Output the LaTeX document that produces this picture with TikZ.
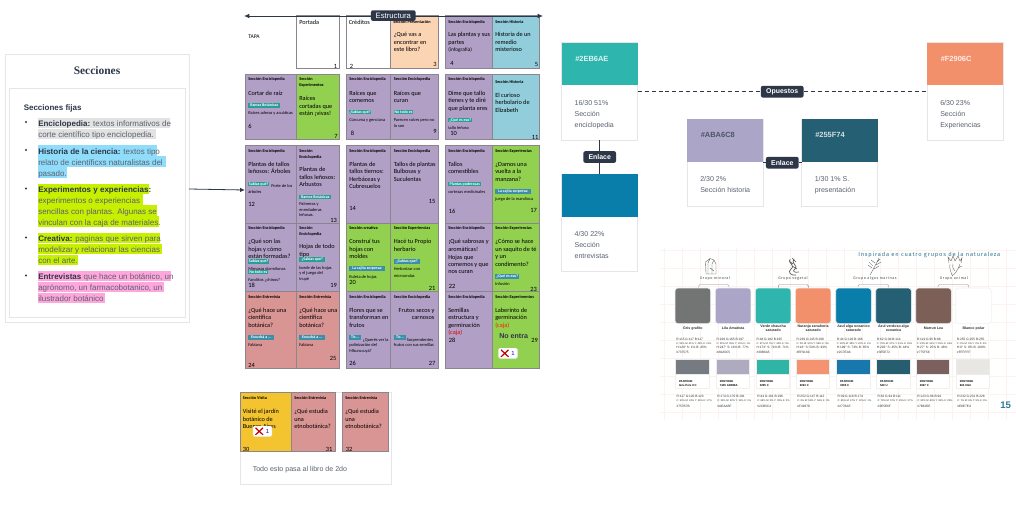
\documentclass[tikz,border=0pt]{standalone}
\usepackage{fontspec}
\usetikzlibrary{arrows.meta}
\setmainfont{Liberation Sans}
\newfontfamily\calib{Carlito}
\newfontfamily\serifb{Liberation Serif}
\newfontfamily\handf[LetterSpace=14]{Fira Sans}
\definecolor{ink}{HTML}{2D3748}
\definecolor{greytx}{HTML}{5A6270}
\definecolor{lineg}{HTML}{E6E6E8}
\definecolor{pur}{HTML}{B19FC6}
\definecolor{grn}{HTML}{92D050}
\definecolor{blu}{HTML}{92CDDC}
\definecolor{ora}{HTML}{FBD4B4}
\definecolor{redp}{HTML}{D99594}
\definecolor{yel}{HTML}{F4C430}
\definecolor{pageb}{HTML}{8A858F}
\definecolor{hlteal}{HTML}{2A9D96}
\definecolor{hlblue}{HTML}{3C8FA8}
\definecolor{hlgrey}{HTML}{E2E2E2}
\definecolor{hlcyan}{HTML}{8FDCFB}
\definecolor{hllime}{HTML}{C6F000}
\definecolor{hlpink}{HTML}{FFA6DD}
\definecolor{titleb}{HTML}{2E7A95}
\definecolor{gridc}{HTML}{FDF3EE}
\definecolor{c1}{HTML}{737575}\definecolor{c2}{HTML}{ABA6C8}\definecolor{c3}{HTML}{2EB6AE}
\definecolor{c4}{HTML}{F2906C}\definecolor{c5}{HTML}{0A7EAB}\definecolor{c6}{HTML}{255F74}
\definecolor{c7}{HTML}{7C5F56}
\definecolor{p1}{HTML}{757B80}\definecolor{p2}{HTML}{AEAABF}\definecolor{p3}{HTML}{2FB5A6}
\definecolor{p4}{HTML}{F49370}\definecolor{p5}{HTML}{1878AE}\definecolor{p6}{HTML}{265E6F}
\definecolor{p7}{HTML}{7B605E}\definecolor{p8}{HTML}{E8E7E4}
\newcommand\sz[1]{\fontsize{#1}{#1}\selectfont}
\newcounter{tn}
\tikzset{
  lab/.style={inner sep=0pt,anchor=mid west,text=black},
  hdt/.style={lab,font=\calib\bfseries\sz{3.2}},
  bdt/.style={lab,font=\calib\sz{4.7}},
  smt/.style={lab,font=\calib\sz{3.3}},
  numt/.style={lab,font=\calib\sz{4.8}},
  rectn/.style={inner sep=0pt,outer sep=0pt,line width=0.45pt},
  tagn/.style={fill=ink,rounded corners=1.5pt,text=white,inner sep=0pt,font=\bfseries\sz{5.2}},
  cardt/.style={lab,font=\sz{5.3},text=greytx},
  pan/.style={lab,font=\sz{6},text=greytx},
  val/.style={lab,font=\sz{2.4},text=black!80},
  vals/.style={lab,font=\sz{1.9},text=black!80},
  grp/.style={inner sep=0pt,font=\handf\sz{2.8},text=black!70},
  sketch/.style={line width=0.25pt,draw=black!65},
}
\newcommand\tx[4][]{\stepcounter{tn}\node[lab,#1] (t\thetn) at (#2,#3) {#4};}
\newcommand\hd[3]{\tx[hdt]{#1}{#2}{#3}}
\newcommand\bd[3]{\tx[bdt]{#1}{#2}{#3}}
\newcommand\smt[3]{\tx[smt]{#1}{#2}{#3}}
\newcommand\nm[3]{\tx[numt]{#1}{#2}{#3}}
% named rectangle from (x0,y0) to (x1,y1)
\newcommand\rectn[6][]{\node[rectn,minimum width={((#4)-(#2))*0.75pt},minimum height={((#5)-(#3))*0.75pt},#1] (#6) at ({((#2)+(#4))/2},{((#3)+(#5))/2}) {};}
\newcommand\pg[6]{\rectn[draw=pageb,fill=#1]{#2}{#3}{#4}{#5}{#6}}
% small highlighted run inside the grid pages
\newcommand\hilite[5]{\stepcounter{tn}\node[inner sep=0pt,anchor=west,fill=#4,minimum width={(#2-#1)*0.75pt},minimum height=3.6pt,text=white,font=\calib\bfseries\sz{3}] (t\thetn) at (#1,#3) {#5};}
% line of the Secciones panel
\newcommand\secl[4]{\stepcounter{tn}\rectn[fill=#3]{38}{#1-5.3}{#2}{#1+5.3}{s\thetn}\tx[pan]{38}{#1}{#4}}
\newcommand\bul[1]{\stepcounter{tn}\node[circle,fill=ink,inner sep=0pt,minimum size=1.7pt] (b\thetn) at (26,#1) {};}
\newcommand\cmark[3]{\stepcounter{tn}\node[fill=white,draw=blue!8,rounded corners=1pt,inner sep=0pt,line width=0.3pt,minimum width=14pt,minimum height=7.6pt] (m\thetn) at (#1,#2) {};
  \draw[red!75!black,line width=0.9pt] (#1-7,#2-3.5)--(#1+0.5,#2+3.5) (#1-7,#2+3.5)--(#1+0.5,#2-3.5);
  \node[inner sep=0pt,font=\sz{4.4},text=blue!70!black] (n\thetn) at (#1+5,#2) {#3};}
% palette
\newcommand\palA[7]{\stepcounter{tn}\rectn[fill=#2,rounded corners=2.2pt,draw=black!6]{#1}{288}{#1+35.6}{323.6}{sw\thetn}
  \node[inner sep=0pt,align=center,font=\bfseries\sz{2.7},text=black!80] (na\thetn) at (#1+17.8,328.5) {#3};
  \tx[val]{#1+1}{337.3}{#4}\tx[vals]{#1+1}{341}{#5}\tx[val]{#1+1}{344.8}{#6}\tx[val]{#1+1}{349.5}{#7}}
\newcommand\palB[7]{\stepcounter{tn}\rectn[fill=white,draw=black!6]{#1}{359.3}{#1+33.6}{388}{pc\thetn}
  \rectn[fill=#2,draw=black!8]{#1}{359.3}{#1+33.6}{374.3}{ps\thetn}
  \tx[font=\bfseries\sz{2.1}]{#1+3.5}{379.3}{#3}\tx[font=\bfseries\sz{2.1}]{#1+3.5}{383}{#4}
  \tx[val]{#1+1}{393.7}{#5}\tx[vals]{#1+1}{398}{#6}\tx[val]{#1+1}{403.8}{#7}}
\newcommand\brk[2]{\draw[line width=0.3pt,draw=black!45,rounded corners=1pt] (#1,288)--(#1,284.5)--(#2,284.5)--(#2,288);}
\begin{document}
\begin{tikzpicture}[x=0.75pt,y=-0.75pt]
\useasboundingbox (0,0) rectangle (1016,504);
\fill[white] (0,0) rectangle (1016,504);
% ---------- palette grid background
\foreach \gx in {664,682,...,1016}{\draw[gridc,line width=0.3pt] (\gx,248)--(\gx,420);}
\foreach \gy in {250,268,...,420}{\draw[gridc,line width=0.3pt] (660,\gy)--(1016,\gy);}
% ---------- Secciones panel
\rectn[fill=white,draw=lineg]{5}{54}{189}{322}{seccard}
\rectn[fill=white,draw=lineg]{9}{88}{185}{317}{secin}
\node[inner sep=0pt,font=\serifb\bfseries\sz{8.6},text=ink] (sectitle) at (97,71) {Secciones};
\node[lab,font=\bfseries\sz{6},text=ink] (secfij) at (23.5,107) {Secciones fijas};
\bul{122}\bul{150}\bul{188.5}\bul{237.5}\bul{275.5}
\secl{123}{170}{hlgrey}{\textbf{\textcolor{ink}{Enciclopedia:}} textos informativos de}
\secl{134}{156}{hlgrey}{corte científico tipo enciclopedia.}
\secl{150.5}{157}{hlcyan}{\textbf{\textcolor{ink}{Historia de la ciencia:}} textos tipo}
\secl{161.5}{166}{hlcyan}{relato de científicxs naturalistas del}
\secl{172.5}{67}{hlcyan}{pasado.}
\secl{189}{149}{hllime}{\textbf{\textcolor{ink}{Experimentos y experiencias:}}}
\secl{199.7}{143}{hllime}{experimentos o experiencias}
\secl{210.5}{157}{hllime}{sencillas con plantas. Algunas se}
\secl{221.5}{159}{hllime}{vinculan con la caja de materiales.}
\secl{238}{160}{hllime}{\textbf{\textcolor{ink}{Creativa:}} paginas que sirven para}
\secl{249}{162}{hllime}{modelizar y relacionar las ciencias}
\secl{260}{78}{hllime}{con el arte.}
\secl{276}{171}{hlpink}{\textbf{\textcolor{ink}{Entrevistas}} que hace un botánico, un}
\secl{287}{164}{hlpink}{agrónomo, un farmacobotanico, un}
\secl{298}{105}{hlpink}{ilustrador botánico}
% ---------- grid pages, row 1
\pg{white}{296}{15}{339}{68}{p1}
\pg{white}{346}{15}{390}{68}{p2}
\pg{ora}{390}{15}{438}{68}{p3}
\pg{pur}{445}{15}{492}{68}{p4}
\pg{blu}{492}{15}{539}{68}{p5}
% row 2
\pg{pur}{245}{74}{296}{139}{p6}
\pg{grn}{296}{74}{339}{139}{p7}
\pg{pur}{346}{74}{390}{139}{p8}
\pg{pur}{390}{74}{438}{139}{p9}
\pg{pur}{445}{74}{492}{139}{p10}
\pg{blu}{492}{74}{539}{139}{p11}
% row 3
\pg{pur}{245}{145}{296}{223}{p12}
\pg{pur}{296}{145}{339}{223}{p13}
\pg{pur}{346}{145}{390}{223}{p14}
\pg{pur}{390}{145}{438}{223}{p15}
\pg{pur}{445}{145}{492}{223}{p16}
\pg{grn}{492}{145}{539}{223}{p17}
% row 4
\pg{pur}{245}{223}{296}{291}{p18}
\pg{pur}{296}{223}{339}{291}{p19}
\pg{grn}{346}{223}{390}{291}{p20}
\pg{grn}{390}{223}{438}{291}{p21}
\pg{pur}{445}{223}{492}{291}{p22}
\pg{grn}{492}{223}{539}{291}{p23}
% row 5
\pg{redp}{245}{291}{296}{368}{p24}
\pg{redp}{296}{291}{339}{368}{p25}
\pg{pur}{346}{291}{390}{368}{p26}
\pg{pur}{390}{291}{438}{368}{p27}
\pg{pur}{445}{291}{492}{368}{p28}
\pg{grn}{492}{291}{539}{368}{p29}
% bottom panel
\rectn[fill=white,draw=lineg]{240}{392}{391}{484}{botpanel}
\pg{yel}{240}{392}{291}{451}{p30}
\pg{redp}{291}{392}{335}{451}{p31}
\pg{redp}{342}{392}{388}{451}{p32}
% ---- texts row 1
\bd{248}{34.5}{\sz{4.2}TAPA}
\bd{299}{20.5}{Portada}\bd{348.5}{20.5}{Créditos}
\hd{393}{19.5}{Sección Presentación}
\bd{393.5}{33}{¿Qué vas a}\bd{393.5}{41}{encontrar en}\bd{393.5}{48}{este libro?}
\hd{448}{19.5}{Sección Enciclopedia}
\bd{448}{33}{Las plantas y sus}\bd{448}{41}{partes}\tx[bdt,font=\calib\sz{4}]{448}{47.7}{(infografía)}
\hd{495}{19.5}{Sección Historia}
\bd{495}{33}{Historia de un}\bd{495}{41}{remedio}\bd{495}{48}{misterioso}
\nm{333.5}{65}{1}\nm{349.5}{65}{2}\nm{433}{63}{3}\nm{450}{62}{4}\nm{534.5}{63}{5}
% ---- row 2
\hd{248}{77.3}{Sección Enciclopedia}
\bd{248}{91.7}{Cortar de raíz}
\hilite{248}{280}{105.3}{hlteal}{Ramas Botánicas}
\smt{248}{110.7}{Raíces adreas y acuáticas}
\nm{248}{125}{6}
\hd{299}{77.3}{Sección}\hd{299}{83}{Experimentos}
\bd{299}{97}{Raíces}\bd{299}{104.5}{cortadas que}\bd{299}{112}{están ¡vivas!}
\nm{334}{135}{7}
\hd{349}{77.3}{Sección Enciclopedia}
\bd{349}{91.7}{Raíces que}\bd{349}{99}{comemos}
\hilite{349}{370}{112}{hlteal}{¿Sabías qué?}
\smt{349}{118}{Cúrcuma y genciana}
\nm{350.5}{132}{8}
\hd{393.5}{77.3}{Sección Enciclopedia}
\bd{393.5}{91.7}{Raíces que}\bd{393.5}{99}{curan}
\hilite{393.5}{413}{112}{hlteal}{No todo es}
\smt{393.5}{118}{Parecen raíces pero no}\smt{393.5}{123.5}{lo son}
\nm{433}{130}{9}
\hd{448}{77.3}{Sección Enciclopedia}
\bd{448}{91.7}{Dime que tallo}\bd{448}{99}{tienes y te diré}\bd{448}{107}{que planta eres}
\hilite{448}{472}{120}{hlteal}{¿Qué es eso?}
\smt{448}{125.7}{tallo leñoso}
\nm{450}{132}{10}
\hd{495}{79.5}{Sección Historia}
\bd{495}{93.7}{El curioso}\bd{495}{101}{herbolario de}\bd{495}{108.7}{Elizabeth}
\nm{531.5}{136}{11}
% ---- row 3
\hd{248}{149}{Sección Enciclopedia}
\bd{248}{162.7}{Plantas  de tallos}\bd{248}{170}{leñosos: Árboles}
\hilite{248}{269}{184}{hlteal}{Sabías qué?}
\smt{271}{184}{Porte de los}\smt{248}{189.7}{árboles}
\nm{248}{203}{12}
\hd{299}{149}{Sección}\hd{299}{154.5}{Enciclopedia}
\bd{299}{168}{Plantas de}\bd{299}{176}{tallos leñosos:}\bd{299}{183}{Arbustos}
\hilite{299}{331}{197}{hlteal}{Ramos Botánicas}
\smt{299}{202}{Palmeras y}\smt{299}{207.5}{enredaderas}\smt{299}{213}{leñosas.}
\nm{330}{219}{13}
\hd{349}{149}{Sección Enciclopedia}
\bd{349}{162.7}{Plantas  de}\bd{349}{170}{tallos tiernos:}\bd{349}{177.7}{Herbáceas y}\bd{349}{185}{Cubresuelos}
\nm{349}{207}{14}
\hd{393.5}{149}{Sección Enciclopedia}
\bd{393.5}{162.7}{Tallos de plantas}\bd{393.5}{170}{Bulbosas y}\bd{393.5}{177.5}{Suculentas}
\nm{428.5}{200}{15}
\hd{448}{149}{Sección Enciclopedia}
\bd{448}{162.7}{Tallos}\bd{448}{170}{comestibles}
\hilite{448}{481}{184}{hlteal}{Plantas poderosas}
\smt{448}{189.5}{cortezas medicinales}
\nm{448.5}{210}{16}
\hd{495}{149}{Sección Experiencias}
\bd{495}{162.7}{¿Damos una}\bd{495}{170}{vuelta a la}\bd{495}{177.5}{manzana?}
\hilite{495}{531}{191.5}{hlblue}{La cajita sorpresa:}
\smt{495}{197}{juego de la mandioca}
\nm{530}{209}{17}
% ---- row 4
\hd{248}{226}{Sección Enciclopedia}
\bd{248}{240}{¿Qué son las}\bd{248}{248}{hojas y cómo}\bd{248}{255}{están formadas?}
\hilite{248}{269}{261.7}{hlteal}{Sabías que?}
\smt{248}{267}{Mimosas dormilonas}
\hilite{248}{268}{272}{hlteal}{No todo es}
\smt{248}{277.5}{Farolitos ¿chinos?}
\nm{248}{284}{18}
\hd{299}{226}{Sección}\hd{299}{231.5}{Enciclopedia}
\bd{299}{245}{Hojas de todo}\bd{299}{253}{tipo}
\hilite{299}{325}{259.7}{hlteal}{¿Sabías que?}
\smt{299}{265.5}{borde de las hojas}\smt{299}{271}{y el juego del}\smt{299}{277}{trupé}
\nm{330}{283.5}{19}
\hd{349}{226}{Sección creativa}
\bd{349}{240}{Construí tus}\bd{349}{247.5}{hojas con}\bd{349}{255}{moldes}
\hilite{349}{385}{268.5}{hlblue}{La cajita sorpresa:}
\smt{349}{274.5}{Ruleta de hojas}
\nm{349}{281}{20}
\hd{393.5}{226}{Sección Experiencias}
\bd{393.5}{240}{Hacé tu Propio}\bd{393.5}{247.5}{herbario}
\hilite{393.5}{420}{261.5}{hlblue}{¿Sabías que?}
\smt{393.5}{267}{Herborizar con}\smt{393.5}{273.5}{microondas}
\nm{428.5}{287}{21}
\hd{448}{226}{Sección Enciclopedia}
\bd{448}{240}{¡Qué sabrosas y}\bd{448}{247.5}{aromáticas!}\bd{448}{255.5}{Hojas que}\bd{448}{262.5}{comemos y que}\bd{448}{270}{nos curan}
\nm{448.5}{284.5}{22}
\hd{495}{226}{Sección Experiencias}
\bd{495}{240}{¿Cómo se hace}\bd{495}{247.5}{un saquito de té}\bd{495}{255}{y un}\bd{495}{262.5}{condimento?}
\hilite{495}{519}{276.5}{hlblue}{¿Qué es eso?}
\smt{495}{281.5}{Infusión}
\nm{530}{288}{23}
% ---- row 5
\hd{248}{295}{Sección Entrevista}
\bd{248}{308.7}{¿Qué hace una}\bd{248}{316}{científica}\bd{248}{323.5}{botánica?}
\hilite{248}{274}{337.5}{hlblue}{Escuchá a ...}
\smt{248}{343}{Fabiana}
\nm{248}{364}{24}
\hd{299}{295}{Sección Entrevista}
\bd{299}{308.7}{¿Qué hace una}\bd{299}{316}{científica}\bd{299}{323.5}{botánica?}
\hilite{299}{325}{337.5}{hlblue}{Escuchá a ...}
\smt{299}{343}{Fabiana}
\nm{329.5}{357}{25}
\hd{349}{295}{Sección Enciclopedia}
\bd{349}{308.7}{Flores que se}\bd{349}{316}{transforman en}\bd{349}{323.5}{frutos}
\hilite{348.5}{361}{337.5}{hlblue}{Tic...}
\smt{362.5}{337.5}{¿Querés ver la}\smt{349}{343}{polinización del}\smt{349}{348.5}{Mburucuyá?}
\nm{349}{362}{26}
\hd{393.5}{295}{Sección Enciclopedia}
\tx[bdt,anchor=mid east]{434.7}{308.7}{Frutos secos y}\tx[bdt,anchor=mid east]{434.7}{316}{carnosos}
\hilite{393.5}{406}{337.5}{hlblue}{Tic...}
\smt{406.5}{337.5}{Sorprendentes}\smt{393.5}{343}{frutos con sus semillas}
\nm{428.5}{362}{27}
\hd{448}{295}{Sección Enciclopedia}
\bd{448}{308.7}{Semillas}\bd{448}{316}{estructura y}\bd{448}{323.5}{germinación}
\tx[bdt,text=red!85!black]{448}{331}{(caja)}
\nm{448.5}{338.5}{28}
\hd{495}{295}{Sección Experimentos}
\bd{495}{308.7}{Laberinto de}\bd{495}{316}{germinación}
\tx[bdt,text=red!80!orange]{495}{323.5}{(caja)}
\tx[font=\bfseries\sz{5.3},text=ink]{499}{334.5}{No entra}
\nm{531}{338.5}{29}
\cmark{508}{353.3}{1}
% ---- bottom
\hd{242.5}{395.7}{Sección Visita}
\bd{242.5}{410}{Visité el jardín}\bd{242.5}{417.7}{botánico de}\bd{242.5}{425}{Buenos Aires}
\nm{242.5}{448}{30}
\cmark{262.5}{431.3}{1}
\hd{294}{395.7}{Sección Entrevista}
\bd{294}{410}{¿Qué estudia}\bd{294}{417.7}{una}\bd{294}{425}{etnobotánica?}
\nm{325.5}{448}{31}
\hd{345}{395.7}{Sección Entrevista}
\bd{345}{410}{¿Qué estudia}\bd{345}{417.7}{una}\bd{345}{425}{etnobotánica?}
\nm{345.5}{448}{32}
\tx[font=\sz{5.3},text=greytx]{252.5}{467.5}{Todo esto pasa al libro de 2do}
% ---------- Estructura axis
\coordinate (ejeL) at (244,16);
\coordinate (ejeR) at (543,16);
\draw[ink,line width=0.7pt,{Latex[length=4pt,width=3.6pt]}-{Latex[length=4pt,width=3.6pt]}] (ejeL)--(ejeR);
\node[tagn,minimum width=33.5pt,minimum height=8pt,font=\sz{5.8}] (estructura) at (393.3,15.6) {Estructura};
% connector Secciones -> page 12
\draw[ink,line width=0.6pt,-{Latex[length=3.6pt,width=3.2pt]}] (seccard.east |- 0,189) -- (p12.west |- 0,190);
% ---------- colour cards
\rectn[fill=white,draw=lineg]{561.7}{42.7}{637.7}{140.3}{cardA}
\rectn[fill=c3]{561.7}{42.7}{637.7}{85.3}{swA}
\tx[font=\bfseries\sz{5.6},text=white!85!c3]{575}{57.7}{\#2EB6AE}
\tx[cardt]{574.3}{101.7}{16/30 51\%}\tx[cardt]{574.3}{112.7}{Sección}\tx[cardt]{574.3}{123.7}{enciclopedia}
\rectn[fill=white,draw=lineg]{561.7}{174}{637.7}{271.3}{cardE}
\rectn[fill=c5]{561.7}{174}{637.7}{216.7}{swE}
\tx[cardt]{574.3}{232.7}{4/30 22\%}\tx[cardt]{574.3}{243.7}{Sección}\tx[cardt]{574.3}{254.5}{entrevistas}
\rectn[fill=white,draw=lineg]{687.3}{119.3}{763.3}{206}{cardL}
\rectn[fill=c2]{687.3}{119.3}{763.3}{162}{swL}
\tx[font=\bfseries\sz{5.6},text=ink!85]{700.5}{134.2}{\#ABA6C8}
\tx[cardt]{700}{178.3}{2/30 2\%}\tx[cardt]{700}{189.3}{Sección historia}
\rectn[fill=white,draw=lineg]{801.7}{119.3}{877.7}{206}{cardD}
\rectn[fill=c6]{801.7}{119.3}{877.7}{162}{swD}
\tx[font=\bfseries\sz{5.6},text=white!80!c6]{815}{134.2}{\#255F74}
\tx[cardt]{814.5}{178.3}{1/30 1\% S.}\tx[cardt]{814.5}{189.3}{presentación}
\rectn[fill=white,draw=lineg]{927.3}{42.7}{1003.3}{140.3}{cardF}
\rectn[fill=c4]{927.3}{42.7}{1003.3}{85.3}{swF}
\tx[font=\bfseries\sz{5.6},text=white!85!c4]{940.5}{57.7}{\#F2906C}
\tx[cardt]{940}{101.7}{6/30 23\%}\tx[cardt]{940}{112.7}{Sección}\tx[cardt]{940}{123.7}{Experiencias}
% tags and connectors
\node[tagn,minimum width=32pt,minimum height=8.8pt] (opuestos) at (782.2,91.7) {Opuestos};
\draw[ink,line width=0.6pt,dash pattern=on 3pt off 2.2pt] (opuestos -| cardA.east)--(opuestos.west) (opuestos.east)--(opuestos -| cardF.west);
\node[tagn,minimum width=24.5pt,minimum height=8.8pt] (enlace1) at (599.7,157) {Enlace};
\draw[ink,line width=0.6pt] (cardA.south)--(enlace1.north) (enlace1.south)--(cardE.north);
\node[tagn,minimum width=24.5pt,minimum height=8.8pt] (enlace2) at (782.3,162.7) {Enlace};
\draw[ink,line width=0.6pt] (enlace2 -| cardL.east)--(enlace2.west) (enlace2.east)--(enlace2 -| cardD.west);
% ---------- palette sheet
\node[lab,font=\handf\sz{4.3},text=titleb] (paltitle) at (858,252.5) {Inspirada en cuatro grupos de la naturaleza};
\node[grp] (g1) at (715,278.7) {Grupo mineral};
\node[grp] (g2) at (793,278) {Grupo vegetal};
\node[grp] (g3) at (875,278.3) {Grupo algas marinas};
\node[grp] (g4) at (954,278) {Grupo animal};
\brk{698.7}{729}\brk{778.3}{808.3}\brk{858}{888.7}\brk{938}{968.7}
% icons
\draw[sketch] (706,274)--(705.5,262)--(710,258.5)--(714,260)--(716,264)--(716,274)--cycle (708,274)--(708,263)--(710,258.5) (712,274)--(712,264)--(714,260) (710,268)--(714,271);
\draw[sketch,line width=0.5pt] (790,259)..controls (787,263) and (796,265)..(791,269)..controls (787,272) and (791,276)..(796,275) (794,259)..controls (790,263) and (799,266)..(795,269)..controls (792,271) and (794,273)..(799,272) (792,258)--(796,262) (789,261)--(793,264) (792,266)--(797,269);
\draw[sketch] (870,275)..controls (874,268) and (876,264)..(879,258) (872,268)--(868,265) (873,266)--(869,262) (875,263)--(871,260) (874,269)--(879,266) (876,265)--(881,262) (877,262)--(880,259);
\draw[sketch] (949,263)--(948,257)--(951,261)--(953,256)--(955,261)--(958,256)--(960,261)--(962,258)--(961,263) (950,264)..controls (949,268) and (951,272)..(952,275) (960,264)..controls (958,270) and (955,274)..(952,276) (953,264)..controls (952,268) and (954,270)..(955,271) (958,268)--(962,266);
% palette columns
\palA{675}{c1}{Gris grafito}{R:115 G:117 B:117}{C: 53\% M: 41\% Y: 43\% K: 21\%}{H:129° S: 1\% B: 45\%}{\#737575}
\palA{715.3}{c2}{Lila Amatista}{R:169 G:165 B:197}{C: 33\% M: 35\% Y: 10\% K: 1\%}{H:247° S: 16\% B: 77\%}{\#A9A5C5}
\palA{755.3}{c3}{Verde chaucha\\saturado}{R:48 G:182 B:165}{C: 67\% M: 0\% Y: 43\% K: 0\%}{H:173° S: 74\% B: 71\%}{\#30B6A5}
\palA{795.3}{c4}{Naranja zanahoria\\saturado}{R:239 G:145 B:108}{C: 0\% M: 53\% Y: 58\% K: 0\%}{H:16° S: 54\% B: 93\%}{\#EF916C}
\palA{835.7}{c5}{Azul alga oceanico\\saturado}{R:44 G:126 B:166}{C: 80\% M: 38\% Y: 20\% K: 2\%}{H:199° S: 73\% B: 65\%}{\#2C7EA6}
\palA{875.7}{c6}{Azul verdoso alga\\oceanica}{R:62 G:94 B:114}{C: 78\% M: 57\% Y: 41\% K: 25\%}{H:203° S: 45\% B: 44\%}{\#3E5E72}
\palA{915.7}{c7}{Marrun Lea}{R:119 G:95 B:88}{C: 43\% M: 54\% Y: 55\% K: 18\%}{H:27° S: 25\% B: 46\%}{\#775F58}
\palA{955.7}{white}{Blanco polar}{R:255 G:255 B:255}{C: 0\% M: 0\% Y: 0\% K: 0\%}{H:0° S: 0\% B: 100\%}{\#FFFFFF}
\palB{675.3}{p1}{PANTONE}{Gris Pérs 8 C}{R:117 G:120 B:123}{C: 53\% M: 43\% Y: 34\% K: 17\%}{\#757B7B}
\palB{716}{p2}{PANTONE}{7445 ARRIBA}{R:174 G:170 B:191}{C: 35\% M: 33\% Y: 15\% K: 1\%}{\#AEAABF}
\palB{756}{p3}{PANTONE}{3255 C}{R:44 G:181 B:196}{C: 68\% M: 0\% Y: 30\% K: 0\%}{\#2CB5C4}
\palB{796}{p4}{PANTONE}{2023 C}{R:252 G:147 B:112}{C: 0\% M: 53\% Y: 56\% K: 0\%}{\#F49370}
\palB{836.3}{p5}{PANTONE}{3385 C}{R:39 G:118 B:174}{C: 85\% M: 47\% Y: 13\% K: 1\%}{\#2776AE}
\palB{876.3}{p6}{PANTONE}{549 U}{R:62 G:94 B:111}{C: 78\% M: 57\% Y: 45\% K: 27\%}{\#3E5E6F}
\palB{916}{p7}{PANTONE}{4997 C}{R:123 G:96 B:94}{C: 50\% M: 60\% Y: 55\% K: 20\%}{\#7B605E}
\palB{956}{p8}{PANTONE}{663 XGC}{R:232 G:231 B:228}{C: 7\% M: 6\% Y: 9\% K: 0\%}{\#E8E7E4}
\node[inner sep=0pt,font=\bfseries\sz{7.2},text=titleb] (pagnum) at (1005.7,405.3) {15};
\end{tikzpicture}
\end{document}
